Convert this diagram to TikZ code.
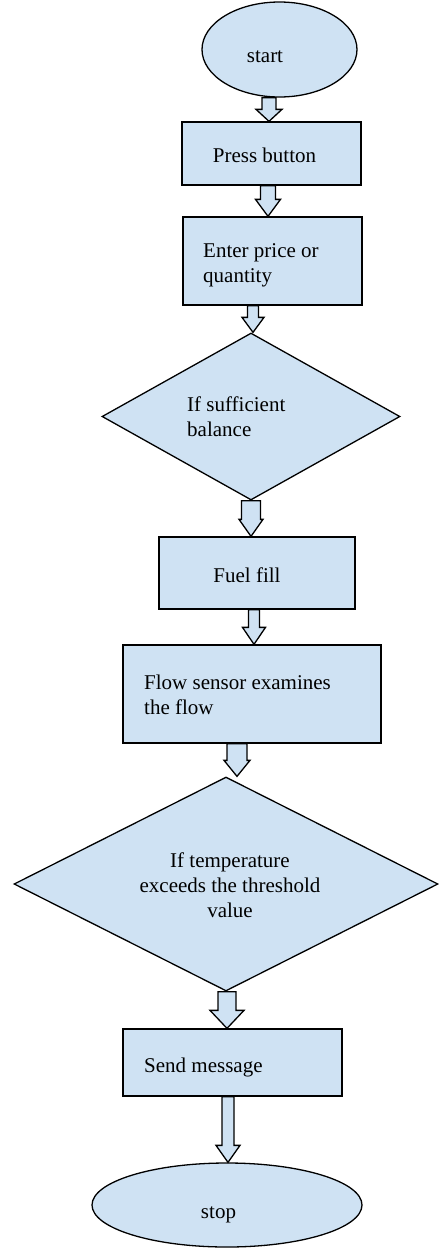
\documentclass[tikz,border=0pt]{standalone}
\usepackage{fontspec}
\setmainfont{Liberation Serif}
\usetikzlibrary{shapes.geometric,calc}
\definecolor{boxblue}{RGB}{207,226,243}
\tikzset{
  shapebase/.style={draw=black, fill=boxblue, line width=1.3pt, inner sep=0pt},
  procbox/.style={shapebase, rectangle},
  termbox/.style={shapebase, ellipse},
  decbox/.style={shapebase, diamond},
  lbl/.style={inner sep=0pt, font=\fontsize{21}{25}\selectfont},
  barrowstyle/.style={draw=black, fill=boxblue, line width=1.3pt, line join=miter}
}
% from, to, centre x, shaft half width, head half width, head length
\newcommand\blockarrow[6]{%
  \draw[barrowstyle] let \p1=(#1.south), \p2=(#2.north) in
    (#3pt-#4pt,\y1) -- (#3pt-#4pt,\y2+#6pt) -- (#3pt-#5pt,\y2+#6pt) -- (#3pt,\y2)
    -- (#3pt+#5pt,\y2+#6pt) -- (#3pt+#4pt,\y2+#6pt) -- (#3pt+#4pt,\y1) -- cycle;}
\begin{document}
\begin{tikzpicture}[x=1pt,y=-1pt]
\useasboundingbox (0,0) rectangle (439,1248);
% shapes
\node[termbox, minimum width=155pt, minimum height=95pt] (start) at (279.5,49.5) {};
\node[procbox, minimum width=179pt, minimum height=63pt] (press) at (271.5,153.5) {};
\node[procbox, minimum width=179pt, minimum height=88pt] (enter) at (272.5,261) {};
\node[decbox, minimum width=298pt, minimum height=167pt] (bal) at (251,416.5) {};
\node[procbox, minimum width=196pt, minimum height=72pt] (fuel) at (257,573) {};
\node[procbox, minimum width=258pt, minimum height=98pt] (flow) at (252,694) {};
\node[decbox, minimum width=424pt, minimum height=214pt] (temp) at (226,884) {};
\node[procbox, minimum width=219pt, minimum height=67pt] (send) at (232.5,1062.5) {};
\node[termbox, minimum width=270pt, minimum height=84pt] (stop) at (227,1205) {};
% texts (base anchor of a multi-line node = baseline of its last line)
\node[lbl, anchor=base] (tstart) at (265,62.5) {start};
\node[lbl, anchor=base] (tpress) at (264.5,162) {Press button};
\node[lbl, anchor=base west, align=left] (tenter) at (203,282) {Enter price or\\quantity};
\node[lbl, anchor=base west, align=left] (tbal) at (187,436) {If sufficient\\balance};
\node[lbl, anchor=base] (tfuel) at (247,582) {Fuel fill};
\node[lbl, anchor=base west, align=left] (tflow) at (144,714) {Flow sensor examines\\the flow};
\node[lbl, anchor=base, align=center] (ttemp) at (230,917) {If temperature\\exceeds the threshold\\value};
\node[lbl, anchor=base west] (tsend) at (144,1072) {Send message};
\node[lbl, anchor=base] (tstop) at (218.5,1218) {stop};
% block arrows
\blockarrow{start}{press}{269}{7}{13}{12}
\blockarrow{press}{enter}{268}{7.5}{12.5}{17}
\blockarrow{enter}{bal}{253}{5.5}{11}{15}
\blockarrow{bal}{fuel}{251}{9.5}{12}{17}
\blockarrow{fuel}{flow}{254}{5.5}{11.5}{17}
\blockarrow{flow}{temp}{237}{10}{13}{16}
\blockarrow{temp}{send}{227}{9}{17}{18}
\blockarrow{send}{stop}{228}{6}{12}{17}
\end{tikzpicture}
\end{document}
